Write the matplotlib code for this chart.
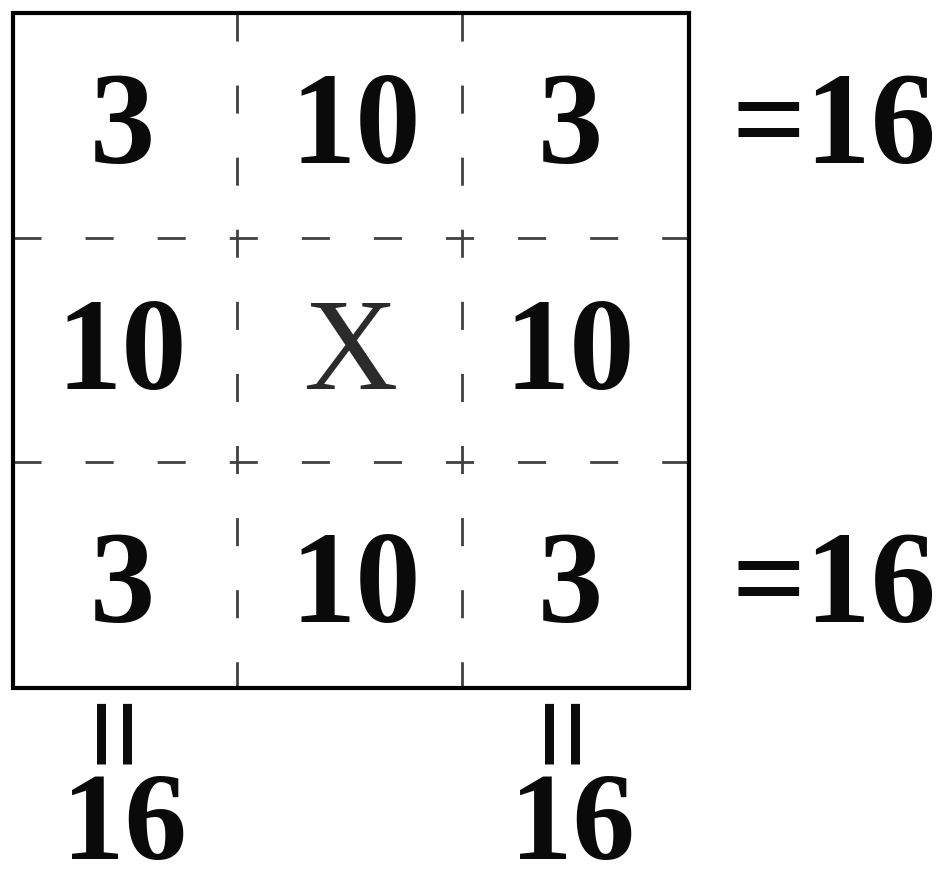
import matplotlib
matplotlib.use("Agg")
import matplotlib.pyplot as plt
from matplotlib.patches import Rectangle

plt.rcParams['lines.scale_dashes'] = False

# ---- data ----
grid = [["3", "10", "3"],
        ["10", "X", "10"],
        ["3", "10", "3"]]
row_sums = ["=16", None, "=16"]
col_sums = ["16", None, "16"]

# ---- layout (pixel units) ----
W, H = 943, 886
left, top, right, bottom = 12.5, 12.5, 688.5, 687.5
col_edges = [237, 462]
row_edges = [238, 462]
col_x = [122, 356, 570]
row_base = [163, 389, 622]
FS = 94
font = dict(family=['Liberation Serif', 'DejaVu Serif'])

fig = plt.figure(figsize=(W / 100, H / 100), dpi=100)
ax = fig.add_axes([0, 0, 1, 1])
ax.set_xlim(0, W)
ax.set_ylim(H, 0)
ax.axis('off')

# outer box
ax.add_patch(Rectangle((left, top), right - left, bottom - top, fill=False,
                       edgecolor='black', linewidth=3.0, zorder=3))

dash = (0, (20.2, 31.7))
for xe in col_edges:
    ax.plot([xe, xe], [top, bottom], color='#404040', linewidth=2.0,
            linestyle=dash, dash_capstyle='butt', zorder=2)
for ye in row_edges:
    ax.plot([left, right], [ye, ye], color='#404040', linewidth=2.0,
            linestyle=dash, dash_capstyle='butt', zorder=2)

# cell values
for r, row in enumerate(grid):
    for c, val in enumerate(row):
        if val == "X":
            ax.text(col_x[c] - 6, row_base[r], val, fontsize=FS, color='#2b2b2b',
                    ha='center', va='baseline', **font)
        else:
            ax.text(col_x[c], row_base[r], val, fontsize=FS, fontweight='bold',
                    color='#0a0a0a', ha='center', va='baseline', **font)

# row sums
for r, s in enumerate(row_sums):
    if s:
        ax.text(936, row_base[r], s, fontsize=FS, fontweight='bold', color='#0a0a0a',
                ha='right', va='baseline', **font)

# column sums
for c, s in enumerate(col_sums):
    if s:
        ax.text(col_x[c] - 1, 727, "=", fontsize=FS, fontweight='bold', color='#0a0a0a',
                ha='center', va='center', rotation=90, rotation_mode='anchor', **font)
        ax.text(col_x[c] + 2, 859, s, fontsize=90, fontweight='bold',
                color='#0a0a0a', ha='center', va='baseline', **font)

fig.savefig("out.png", dpi=100, facecolor='white')
